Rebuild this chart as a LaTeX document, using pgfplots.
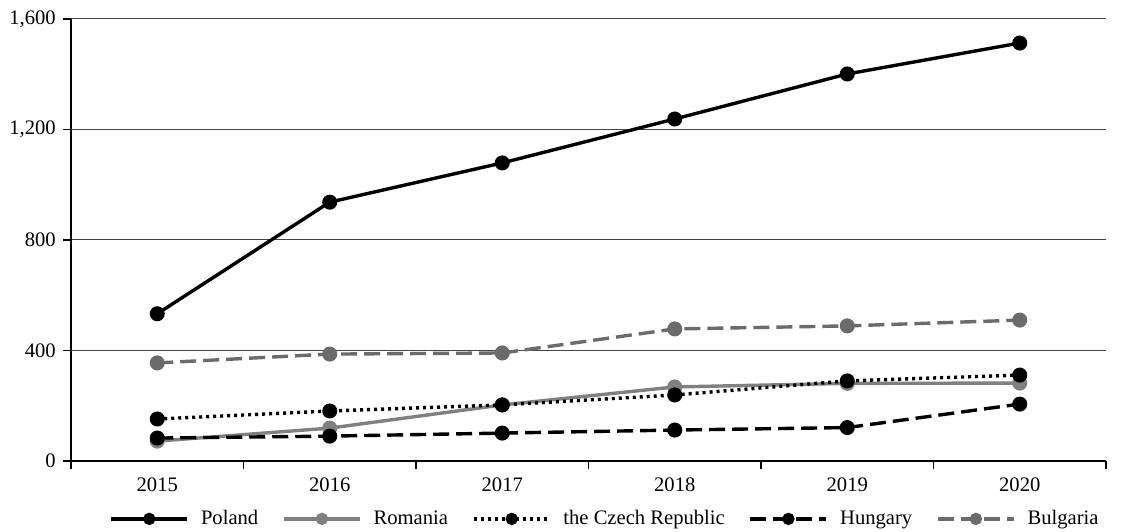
\documentclass[border=0pt]{standalone}
\usepackage{pgfplots}
\pgfplotsset{compat=1.18}
\usetikzlibrary{calc}
\usepackage{fontspec}
\setmainfont{Liberation Serif}
\definecolor{rgray}{HTML}{808080}
\definecolor{bgray}{HTML}{6B6B6B}
\definecolor{ggray}{HTML}{444444}
\newcommand{\pre}{\rule{4pt}{0pt}}
\newcommand{\post}{\rule{10pt}{0pt}}
\begin{document}
\fontsize{10.3}{12}\selectfont
\begin{tikzpicture}
\begin{axis}[
  scale only axis,
  width=517.5pt, height=221pt,
  xmin=-0.5, xmax=5.5,
  ymin=0, ymax=1600,
  axis x line*=bottom, axis y line*=left,
  axis line style={line width=0.6pt},
  xtick={0,1,2,3,4,5},
  xticklabels={2015,2016,2017,2018,2019,2020},
  minor xtick={-0.5,0.5,1.5,2.5,3.5,4.5,5.5},
  major x tick style={draw=none},
  minor tick length=4pt,
  major tick length=4pt,
  tick align=outside,
  tick style={black, line width=0.6pt},
  ytick={0,400,800,1200,1600},
  yticklabel style={/pgf/number format/.cd, 1000 sep={,}, assume math mode=true},
  xticklabel style={/pgf/number format/assume math mode=true},
  ymajorgrids,
  grid style={ggray, line width=0.5pt},
  tick label style={font=\fontsize{10.3}{12}\selectfont},
  xticklabel shift=1pt,
  legend columns=5,
  legend style={draw=none, at={(0.517,-0.131)}, anchor=center, font=\fontsize{10.3}{12}\selectfont,
    /tikz/column sep=0pt},
  legend image code/.code={\draw[mark repeat=2,mark phase=2,mark size=2.2pt,#1] plot coordinates {(0pt,0pt) (19pt,0pt) (38pt,0pt)};},
  every axis plot/.append style={line width=1.7pt, mark=*, mark size=2.9pt, mark options={solid}},
]
\addplot[black] coordinates {(0,533) (1,937) (2,1079) (3,1238) (4,1401) (5,1513)};
\addlegendentry{\pre Poland\post}
\addplot[rgray] coordinates {(0,72) (1,119) (2,203) (3,268) (4,281) (5,282)};
\addlegendentry{\pre Romania\post}
\addplot[black, dash pattern=on 1.5pt off 2pt] coordinates {(0,152) (1,181) (2,203) (3,239) (4,290) (5,311)};
\addlegendentry{\pre the Czech Republic\post}
\addplot[black, dash pattern=on 8pt off 3.5pt] coordinates {(0,83) (1,90) (2,101) (3,112) (4,121) (5,206)};
\addlegendentry{\pre Hungary\post}
\addplot[bgray, dash pattern=on 8pt off 3.5pt] coordinates {(0,355) (1,387) (2,391) (3,478) (4,489) (5,510)};
\addlegendentry{\pre Bulgaria}
\end{axis}
\pgfresetboundingbox
\path ($(current axis.south west)+(-35.5pt,-35.5pt)$) rectangle ($(current axis.north east)+(9.5pt,9.5pt)$);
\end{tikzpicture}
\end{document}
